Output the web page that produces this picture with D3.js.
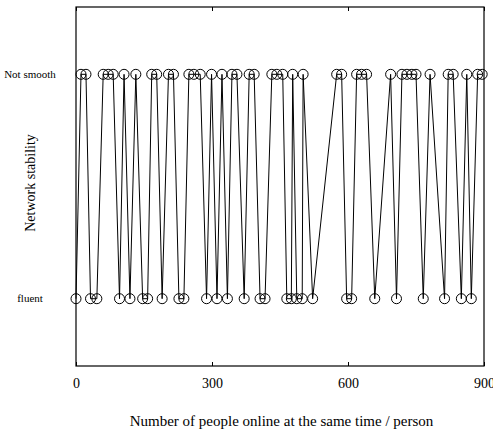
<!DOCTYPE html>
<html>
<head>
<meta charset="utf-8">
<script src="https://cdn.jsdelivr.net/npm/d3@7"></script>
<style>
  body { margin: 0; background: #fff; }
  text { font-family: "Liberation Serif", "DejaVu Serif", serif; fill: #000; }
</style>
</head>
<body>
<svg id="chart"></svg>
<script>
const notSmoothX = [11, 22, 60, 71, 82, 106, 132, 167, 178, 204, 215, 249, 260, 274,
  299, 322, 344, 355, 382, 393, 432, 443, 456, 478, 501, 575, 586, 619, 630, 641,
  694, 719, 730, 741, 750, 781, 821, 832, 862, 886, 896];
const fluentX = [0, 32, 46, 96, 119, 147, 158, 190, 227, 238, 288, 311, 334, 371,
  406, 417, 465, 475, 487, 499, 522, 597, 608, 659, 707, 766, 813, 850, 872];
const states = ["fluent", "Not smooth"];
const xTicks = [0, 300, 600, 900];

const W = 493, H = 431;
const margin = {top: 7, right: 9, bottom: 65, left: 76};
const width = W - margin.left - margin.right;
const height = H - margin.top - margin.bottom;

const data = notSmoothX.map(function(v) { return {x: v, s: 1}; })
  .concat(fluentX.map(function(v) { return {x: v, s: 0}; }))
  .sort(function(a, b) { return a.x - b.x; });

const svg = d3.select("#chart")
  .attr("width", W)
  .attr("height", H)
  .append("g")
  .attr("transform", "translate(" + margin.left + "," + margin.top + ")");

const x = d3.scaleLinear().domain([0, 900]).range([0, width]);
const y = d3.scaleLinear().domain([-0.3, 1.3]).range([height, 0]);

// frame
svg.append("rect")
  .attr("width", width).attr("height", height)
  .attr("fill", "none").attr("stroke", "#000").attr("stroke-width", 1.2);

// x axis, inward ticks top and bottom
const xb = svg.append("g")
  .attr("transform", "translate(0," + height + ")")
  .call(d3.axisBottom(x).tickValues(xTicks).tickSizeInner(-4).tickSizeOuter(0).tickPadding(12));
xb.select(".domain").remove();
xb.selectAll("text").style("font-size", "14px").style("font-family", "Liberation Serif");

const xt = svg.append("g")
  .call(d3.axisTop(x).tickValues(xTicks).tickSizeInner(-4).tickSizeOuter(0).tickFormat(""));
xt.select(".domain").remove();

// y category labels
svg.selectAll(".ylab")
  .data(states)
  .enter().append("text")
  .attr("class", "ylab")
  .attr("x", -46)
  .attr("y", function(d, i) { return y(i); })
  .attr("dy", "0.32em")
  .attr("text-anchor", "middle")
  .style("font-size", "11px")
  .text(function(d) { return d; });

// line + markers
const line = d3.line()
  .x(function(d) { return x(d.x); })
  .y(function(d) { return y(d.s); });

svg.append("path")
  .datum(data)
  .attr("d", line)
  .attr("fill", "none")
  .attr("stroke", "#000")
  .attr("stroke-width", 1);

svg.selectAll("circle")
  .data(data)
  .enter().append("circle")
  .attr("cx", function(d) { return x(d.x); })
  .attr("cy", function(d) { return y(d.s); })
  .attr("r", 5)
  .attr("fill", "none")
  .attr("stroke", "#000")
  .attr("stroke-width", 1);

// axis titles
svg.append("text")
  .attr("x", (130 + 433) / 2 - margin.left)
  .attr("y", 426 - margin.top)
  .attr("text-anchor", "middle")
  .style("font-size", "15px")
  .text("Number of people online at the same time / person");

svg.append("text")
  .attr("transform", "translate(" + (35 - margin.left) + "," + (183 - margin.top) + ") rotate(-90)")
  .attr("text-anchor", "middle")
  .style("font-size", "14px")
  .text("Network stability");
</script>
</body>
</html>
